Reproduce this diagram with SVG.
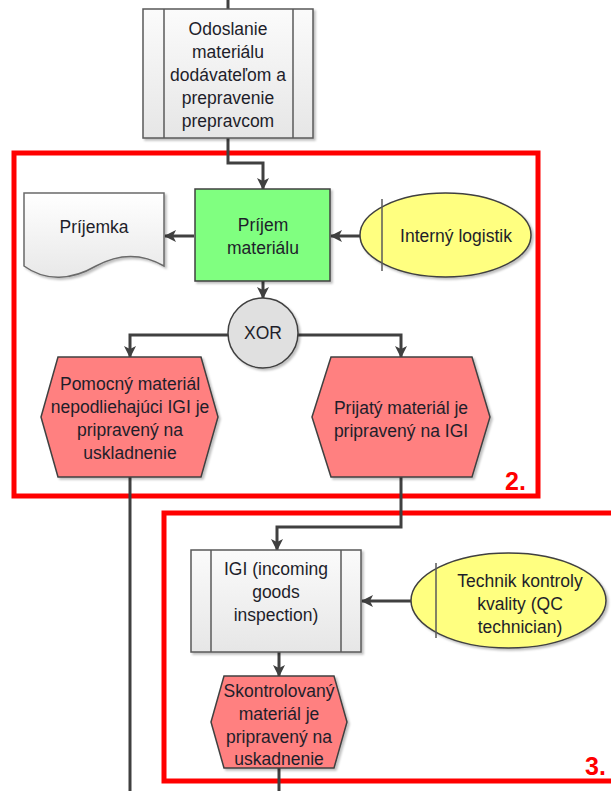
<svg xmlns="http://www.w3.org/2000/svg" width="611" height="791" viewBox="0 0 611 791">
  <defs>
    <linearGradient id="procFill" x1="0" y1="0" x2="0" y2="1">
      <stop offset="0" stop-color="#fbfbfb"/>
      <stop offset="1" stop-color="#e6e6e6"/>
    </linearGradient>
    <linearGradient id="docFill" x1="0" y1="0" x2="0" y2="1">
      <stop offset="0" stop-color="#ffffff"/>
      <stop offset="1" stop-color="#e8e8e8"/>
    </linearGradient>
    <filter id="shadow" x="-10%" y="-10%" width="130%" height="130%">
      <feDropShadow dx="2" dy="2" stdDeviation="1.2" flood-color="#000" flood-opacity="0.25"/>
    </filter>
    <marker id="arrow" viewBox="0 0 12 12" refX="11" refY="6" markerWidth="12" markerHeight="12" markerUnits="userSpaceOnUse" orient="auto">
      <path d="M0,0 L12,6 L0,12 L3,6 Z" fill="#404040"/>
    </marker>
  </defs>
  <style>
    text { font-family: "Liberation Sans", Arial, sans-serif; font-size: 17.5px; fill: #1e1e2a; text-anchor: middle; }
    .frame { fill: none; stroke: #ff0000; stroke-width: 5; }
    .frameLabel { font-size: 25px; font-weight: bold; fill: #ff0000; text-anchor: start; }
    .proc { fill: url(#procFill); stroke: #5a5a5a; stroke-width: 1.5; filter: url(#shadow); }
    .bar { stroke: #5a5a5a; stroke-width: 1.5; }
    .func { fill: #80ff80; stroke: #404040; stroke-width: 1.5; filter: url(#shadow); }
    .event { fill: #ff8080; stroke: #404040; stroke-width: 1.5; filter: url(#shadow); }
    .role { fill: #ffff80; stroke: #404040; stroke-width: 1.5; filter: url(#shadow); }
    .gate { fill: #e0e0e0; stroke: #404040; stroke-width: 1.5; filter: url(#shadow); }
    .doc { fill: url(#docFill); stroke: #6a6a6a; stroke-width: 1.5; filter: url(#shadow); }
    .conn { fill: none; stroke: #404040; stroke-width: 3; }
    .arr { marker-end: url(#arrow); }
  </style>

  <!-- area frames -->
  <rect class="frame" x="14" y="153" width="524" height="343"/>
  <text class="frameLabel" x="505" y="490">2.</text>
  <rect class="frame" x="164" y="513" width="460" height="268"/>
  <text class="frameLabel" x="585" y="775">3.</text>

  <!-- connectors -->
  <g id="connectors">
    <path class="conn" d="M228,0 V9"/>
    <path class="conn arr" d="M228,138 V163 H263 V189"/>
    <path class="conn arr" d="M194,236 H165"/>
    <path class="conn arr" d="M360,236 H331"/>
    <path class="conn arr" d="M263,281 V298"/>
    <path class="conn arr" d="M228,335 H130 V357"/>
    <path class="conn arr" d="M297,335 H401 V357"/>
    <path class="conn" d="M130,477 V791"/>
    <path class="conn arr" d="M401,477 V527 H277 V550"/>
    <path class="conn arr" d="M411,601 H362"/>
    <path class="conn arr" d="M279,652 V676"/>
    <path class="conn" d="M279,768 V791"/>
  </g>

  <!-- process: shipping by supplier -->
  <g id="odoslanie">
    <rect class="proc" x="143" y="9" width="170" height="129"/>
    <line class="bar" x1="164" y1="9" x2="164" y2="138"/>
    <line class="bar" x1="293" y1="9" x2="293" y2="138"/>
    <text x="228" y="35">Odoslanie</text>
    <text x="228" y="58">materiálu</text>
    <text x="228" y="81">dodávateľom a</text>
    <text x="228" y="104">prepravenie</text>
    <text x="228" y="127">prepravcom</text>
  </g>

  <!-- document -->
  <g id="prijemka">
    <path class="doc" d="M24,193 H164 V266 C140,252 118,254 96,266 C72,280 46,282 24,266 Z"/>
    <text x="94" y="233">Príjemka</text>
  </g>

  <!-- function -->
  <g id="prijem">
    <rect class="func" x="195" y="189" width="135" height="92"/>
    <text x="263" y="231">Príjem</text>
    <text x="263" y="254">materiálu</text>
  </g>

  <!-- role: internal logistics -->
  <g id="interny-logistik">
    <ellipse class="role" cx="445.5" cy="235" rx="85.5" ry="42"/>
    <line class="bar" x1="382" y1="199" x2="382" y2="271"/>
    <text x="456" y="242">Interný logistik</text>
  </g>

  <!-- XOR gateway -->
  <g id="xor">
    <circle class="gate" cx="263" cy="333" r="35"/>
    <text x="263" y="339">XOR</text>
  </g>

  <!-- events -->
  <g id="pomocny-material">
    <polygon class="event" points="58,357 201,357 218,417 201,477 58,477 41,417"/>
    <text x="130" y="390">Pomocný materiál</text>
    <text x="130" y="413">nepodliehajúci IGI je</text>
    <text x="130" y="436">pripravený na</text>
    <text x="130" y="459">uskladnenie</text>
  </g>

  <g id="prijaty-material">
    <polygon class="event" points="331,357 472,357 490,417 472,477 331,477 312,417"/>
    <text x="401" y="414">Prijatý materiál je</text>
    <text x="401" y="437">pripravený na IGI</text>
  </g>

  <!-- process: incoming goods inspection -->
  <g id="igi">
    <rect class="proc" x="191" y="550" width="170" height="102"/>
    <line class="bar" x1="211" y1="550" x2="211" y2="652"/>
    <line class="bar" x1="341" y1="550" x2="341" y2="652"/>
    <text x="276" y="575">IGI (incoming</text>
    <text x="276" y="598">goods</text>
    <text x="276" y="621">inspection)</text>
  </g>

  <!-- role: QC technician -->
  <g id="technik">
    <ellipse class="role" cx="508.5" cy="600.5" rx="97.5" ry="47.5"/>
    <line class="bar" x1="436" y1="563" x2="436" y2="638"/>
    <text x="520" y="587">Technik kontroly</text>
    <text x="520" y="610">kvality (QC</text>
    <text x="520" y="633">technician)</text>
  </g>

  <!-- event: inspected material -->
  <g id="skontrolovany">
    <polygon class="event" points="224,676 334,676 347,722 334,768 224,768 211,722"/>
    <text x="279" y="697">Skontrolovaný</text>
    <text x="279" y="720">materiál je</text>
    <text x="279" y="743">pripravený na</text>
    <text x="279" y="765">uskadnenie</text>
  </g>
</svg>
